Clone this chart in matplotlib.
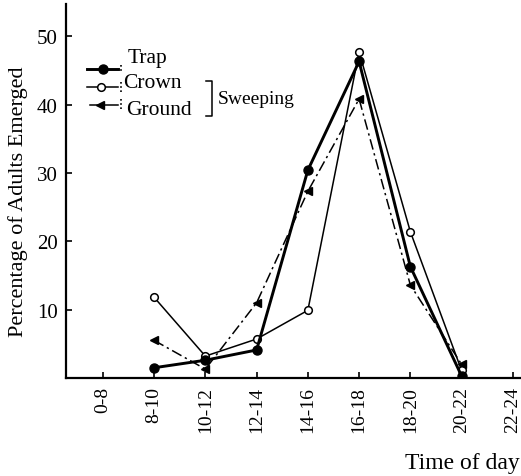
import numpy as np
import matplotlib.pyplot as plt
from matplotlib.lines import Line2D

plt.rcParams['font.family'] = 'Liberation Serif'

# time-of-day classes and percentages
periods = ["0-8", "8-10", "10-12", "12-14", "14-16", "16-18", "18-20", "20-22", "22-24"]
trap = [1.5, 2.6, 4.1, 30.4, 46.3, 16.3, 0.3]
crown = [11.8, 3.2, 5.7, 9.9, 47.7, 21.4, 1.1]
ground = [5.5, 1.3, 11.0, 27.3, 40.8, 13.6, 2.0]
data_periods = periods[1:8]

W, H = 521, 477
fig = plt.figure(figsize=(W / 100, H / 100), dpi=100)
ax = fig.add_axes([66 / W, 1 - 379 / H, (520 - 66) / W, (379 - 5) / H])

x_all = np.arange(len(periods))
x = np.array([periods.index(p) for p in data_periods])

ax.plot(x, crown, color="black", lw=1.1, marker="o", ms=5.5, mfc="white", mew=1.1, zorder=3)
ax.plot(x, ground, color="black", lw=1.1, dashes=(7, 2.5, 1.5, 2.5), marker="<", ms=6,
        mfc="black", zorder=3)
ax.plot(x, trap, color="black", lw=2.1, marker="o", ms=6.5, mfc="black", zorder=4)

ax.set_xlim(-0.72, 8.14)
ax.set_ylim(0, 54.7)
ax.set_xticks(x_all)
ax.set_xticklabels(periods, rotation=90, fontsize=14)
ax.set_yticks([10, 20, 30, 40, 50])
ax.tick_params(axis="y", direction="in", length=4, width=1.2, labelsize=15, pad=6)
ax.tick_params(axis="x", direction="in", length=4, width=1.2, pad=6)
for s in ["top", "right"]:
    ax.spines[s].set_visible(False)
for s in ["left", "bottom"]:
    ax.spines[s].set_linewidth(1.6)

fig.text(18 / W, 1 - 202 / H, "Percentage of Adults Emerged", rotation=90,
         ha="center", va="center", fontsize=16)
fig.text(520 / W, 1 - 464 / H, "Time of day", ha="right", va="center", fontsize=17)


# hand-made legend
def px(xp, yp):
    return xp / W, 1 - yp / H


def add_line(xs, ys, **kw):
    fx = [xx / W for xx in xs]
    fy = [1 - yy / H for yy in ys]
    fig.add_artist(Line2D(fx, fy, transform=fig.transFigure, color="black", **kw))


add_line([87, 118], [70, 70], lw=2.1)
add_line([103], [70], marker="o", ms=6.5, mfc="black", ls="none")
add_line([87, 118], [88, 88], lw=1.1)
add_line([101], [88], marker="o", ms=5.5, mfc="white", mew=1.1, ls="none")
add_line([90, 118], [106, 106], lw=1.1)
add_line([100], [106], marker="<", ms=6, mfc="black", ls="none")
for y0, y1 in [(66, 74), (83, 94), (100, 111)]:
    add_line([121, 121], [y0, y1], lw=1.2, ls=(0, (1, 1.5)))
add_line([206, 212, 212, 206], [82, 82, 117, 117], lw=1.1)

fig.text(*px(128, 58), "Trap", ha="left", va="center", fontsize=15.5)
fig.text(*px(123, 84), "Crown", ha="left", va="center", fontsize=15.5)
fig.text(*px(126, 111), "Ground", ha="left", va="center", fontsize=15.5)
fig.text(*px(218, 100), "Sweeping", ha="left", va="center", fontsize=14)

plt.savefig("out.png", dpi=100)
